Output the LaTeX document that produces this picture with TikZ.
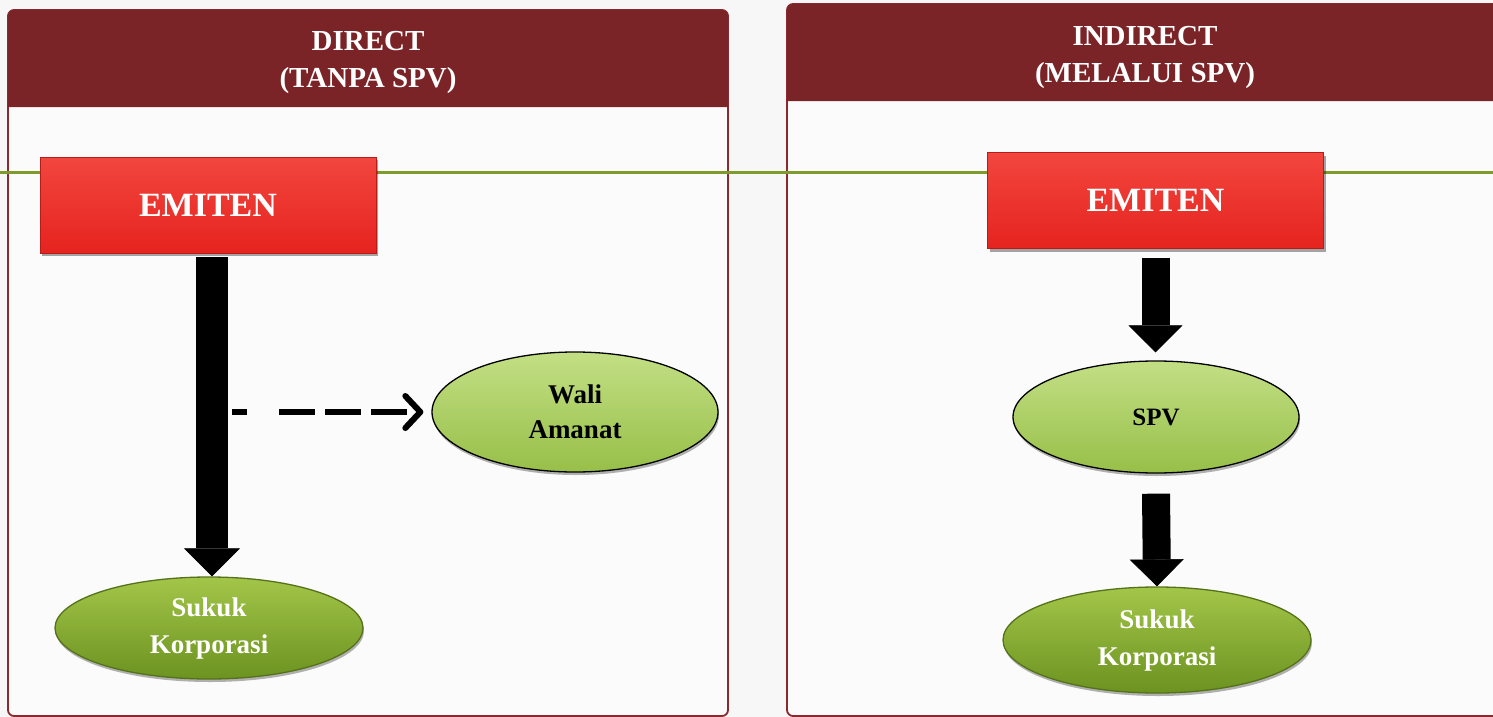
\documentclass[tikz,border=0pt]{standalone}
\usepackage{fontspec}
\setmainfont{Liberation Serif}
\usetikzlibrary{arrows.meta,shapes.geometric,shadows}
\definecolor{bgc}{HTML}{F7F7F7}
\definecolor{panelbg}{HTML}{FBFBFB}
\definecolor{hdr}{HTML}{7B2428}
\definecolor{pborder}{HTML}{8B2A2E}
\definecolor{oliveline}{HTML}{7F9B2B}
\definecolor{emredtop}{HTML}{F2463E}
\definecolor{emredbot}{HTML}{E6231F}
\definecolor{lgtop}{HTML}{C3DF85}
\definecolor{lgbot}{HTML}{97BF48}
\definecolor{dgtop}{HTML}{A3C649}
\definecolor{dgbot}{HTML}{6C9220}
\definecolor{dgedge}{HTML}{55721A}
\tikzset{
  panelbox/.style={draw=pborder, line width=1.8pt, fill=panelbg, rounded corners=6pt},
  hdrtext/.style={text=white, font=\bfseries\fontsize{29}{37}\selectfont, align=center, inner sep=0pt},
  emitenbox/.style={rectangle, minimum width=336pt, minimum height=96pt, inner sep=0pt,
    top color=emredtop, bottom color=emredbot, draw=emredbot!80!black, line width=0.6pt,
    text=white, font=\bfseries\fontsize{34}{40}\selectfont,
    drop shadow={shadow xshift=2pt, shadow yshift=-3pt, fill=black, opacity=0.35}},
  lightell/.style={ellipse, inner sep=0pt, top color=lgtop, bottom color=lgbot,
    draw=black, line width=1.3pt, align=center, text=black,
    font=\bfseries\fontsize{27}{35}\selectfont,
    drop shadow={shadow xshift=1pt, shadow yshift=-3pt, fill=black, opacity=0.3}},
  darkell/.style={ellipse, inner sep=0pt, top color=dgtop, bottom color=dgbot,
    draw=dgedge, line width=1.3pt, align=center, text=white,
    font=\bfseries\fontsize{27}{37}\selectfont,
    drop shadow={shadow xshift=1pt, shadow yshift=-3pt, fill=black, opacity=0.3}},
  bigarrowL/.style={draw=black, line width=32pt,
    -{Triangle[width=56pt, length=28pt, line width=0.5pt]}},
  bigarrowR/.style={draw=black, line width=28pt,
    -{Triangle[width=54pt, length=27pt, line width=0.5pt]}},
  dasharrow/.style={draw=black, line width=6pt,
    dash pattern=on 15pt off 32pt on 36pt off 10pt on 36pt off 10pt on 36pt off 40pt,
    -{Straight Barb[length=15pt, width=32pt, line width=6pt, round]}}
}
\begin{document}
\begin{tikzpicture}[x=1pt, y=-1pt]
\useasboundingbox (0,0) rectangle (1493,717);
\fill[bgc] (0,0) rectangle (1493,717);

% panels
\draw[panelbox] (8,10) rectangle (728,716);
\draw[panelbox] (787,4) rectangle (1520,716);
\fill[hdr] (8,107) {[rounded corners=6pt] -- (8,10) -- (728,10)} -- (728,107) -- cycle;
\fill[hdr] (787,101) {[rounded corners=6pt] -- (787,4) -- (1520,4)} -- (1520,101) -- cycle;

\node[hdrtext] (hL) at (368,62) {DIRECT\\(TANPA SPV)};
\node[hdrtext] (hR) at (1145,57) {INDIRECT\\(MELALUI SPV)};

% olive rule
\draw[oliveline, line width=3pt] (0,172) -- (1493,172);

% left diagram
\node[emitenbox] (emitenL) at (208,205) {EMITEN};
\node[lightell, minimum width=286pt, minimum height=120pt] (wali) at (575,412) {Wali\\Amanat};
\node[darkell, minimum width=308pt, minimum height=102pt] (sukukL) at (209,628) {Sukuk\\Korporasi};

\draw[bigarrowL] ([xshift=4pt, yshift=-4pt]emitenL.south) -- ([xshift=4pt]emitenL.south |- sukukL.north);
\coordinate (dstart) at (232,412);
\draw[dasharrow, shorten >=8pt] (dstart) -- (wali.west);

% right diagram
\node[emitenbox] (emitenR) at (1155.5,200.5) {EMITEN};
\node[lightell, minimum width=286pt, minimum height=112pt, font=\bfseries\fontsize{25}{30}\selectfont] (spv) at (1156,417) {SPV};
\node[darkell, minimum width=308pt, minimum height=106pt] (sukukR) at (1157,640) {Sukuk\\Korporasi};

\draw[bigarrowR, shorten >=8pt] ([yshift=-9pt]emitenR.south) -- (emitenR.south |- spv.north);
\draw[bigarrowR] ([yshift=-20pt]spv.south) -- (sukukR.north);
\end{tikzpicture}
\end{document}
